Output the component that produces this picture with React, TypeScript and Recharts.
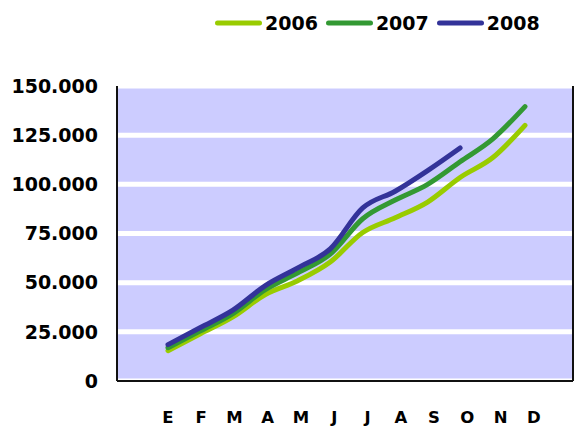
import React from 'react';
import { LineChart, Line, XAxis, YAxis, CartesianGrid, Legend } from 'recharts';

const months = ['E', 'F', 'M', 'A', 'M', 'J', 'J', 'A', 'S', 'O', 'N', 'D'];
const sales2006 = [15400, 24000, 32600, 44000, 51000, 60500, 75500, 83000, 91000, 103500, 113500, 130000];
const sales2007 = [16900, 25500, 34300, 46500, 55000, 64500, 82500, 92000, 100000, 111500, 123000, 139500];
const sales2008 = [18500, 27200, 36000, 48500, 57500, 67200, 88000, 96500, 107000, 118500, null, null];
const yTicks = [0, 25000, 50000, 75000, 100000, 125000, 150000];

const data = months.map((m, i) => ({
  key: `${m}-${i}`,
  month: m,
  y2006: sales2006[i],
  y2007: sales2007[i],
  y2008: sales2008[i],
}));

const FONT = '"DejaVu Sans", sans-serif';
const BORDER = { stroke: '#111', strokeWidth: 2 };

const formatThousands = (v: number) => String(v).replace(/\B(?=(\d{3})+(?!\d))/g, '.');

const MonthTick = (props: any) => {
  const { x, y, payload, index } = props;
  return (
    <text
      x={x + index * 0.8}
      y={y}
      dy={11}
      textAnchor="middle"
      fontFamily={FONT}
      fontWeight="bold"
      fontSize={16.5}
      fill="#000"
    >
      {months[payload.index ?? index]}
    </text>
  );
};

const renderLegend = (props: any) => {
  const { payload } = props;
  return (
    <div style={{ display: 'flex', alignItems: 'center', height: 30 }}>
      {payload.map((entry: any) => (
        <div key={entry.value} style={{ display: 'flex', alignItems: 'center', marginRight: 8 }}>
          <svg width={47} height={8} style={{ display: 'block' }}>
            <line x1={2.5} y1={4} x2={44.5} y2={4} stroke={entry.color} strokeWidth={5} strokeLinecap="round" />
          </svg>
          <span style={{ fontFamily: FONT, fontWeight: 700, fontSize: 19, marginLeft: 3, color: '#000', lineHeight: '20px' }}>
            {entry.value}
          </span>
        </div>
      ))}
    </div>
  );
};

export default function App() {
  return (
    <div style={{ position: 'absolute', left: 0, top: 0, width: 574, height: 426, background: '#fff' }}>
      <LineChart width={574} height={426} data={data} margin={{ top: 56, right: 0, bottom: 0, left: 0 }}>
        <CartesianGrid vertical={false} stroke="#ffffff" strokeWidth={5} fill="#CCCCFF" fillOpacity={1} />
        <XAxis
          dataKey="key"
          padding={{ left: 51, right: 48 }}
          axisLine={BORDER}
          tickLine={false}
          tickSize={0}
          tickMargin={31}
          height={45}
          interval={0}
          tick={<MonthTick />}
        />
        <XAxis xAxisId="top" dataKey="key" orientation="top" height={0} axisLine={BORDER} tick={false} tickLine={false} />
        <YAxis
          domain={[0, 150000]}
          ticks={yTicks}
          tickFormatter={formatThousands}
          width={117}
          axisLine={BORDER}
          tickLine={false}
          tickSize={0}
          tickMargin={19}
          tick={{ fontFamily: FONT, fontWeight: 'bold', fontSize: 19, fill: '#000' }}
        />
        <YAxis yAxisId="right" orientation="right" width={1} domain={[0, 150000]} axisLine={BORDER} tick={false} tickLine={false} />
        <Legend
          verticalAlign="top"
          align="left"
          content={renderLegend}
          wrapperStyle={{ top: 8, left: 215, width: 'auto' }}
        />
        <Line type="monotone" dataKey="y2006" name="2006" stroke="#99CC00" strokeWidth={5} strokeLinecap="round" dot={false} activeDot={false} isAnimationActive={false} />
        <Line type="monotone" dataKey="y2007" name="2007" stroke="#339933" strokeWidth={5} strokeLinecap="round" dot={false} activeDot={false} isAnimationActive={false} />
        <Line type="monotone" dataKey="y2008" name="2008" stroke="#333399" strokeWidth={5} strokeLinecap="round" dot={false} activeDot={false} isAnimationActive={false} />
      </LineChart>
    </div>
  );
}
